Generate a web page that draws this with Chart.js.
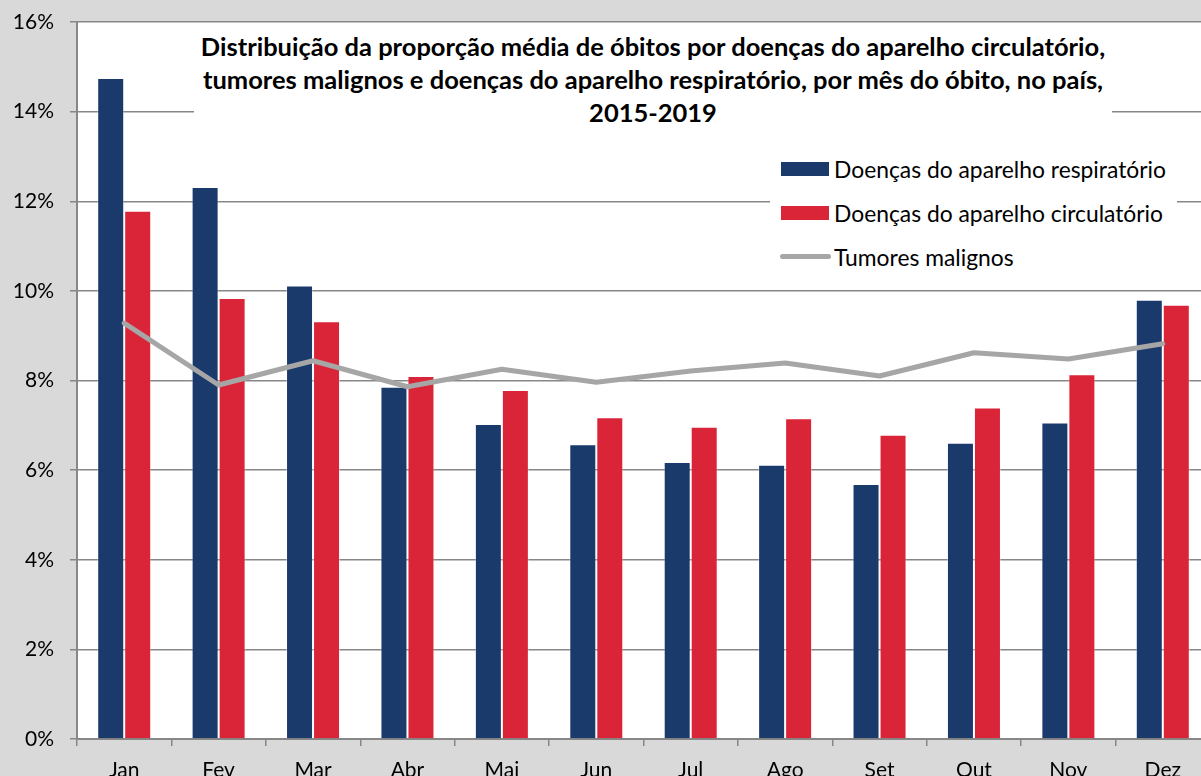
<!DOCTYPE html>
<html>
<head>
<meta charset="utf-8">
<script src="https://cdn.jsdelivr.net/npm/chart.js@4/dist/chart.umd.min.js"></script>
<style>
  html, body { margin:0; padding:0; width:1201px; height:776px; overflow:hidden; background:#d9d9d9; }
  #wrap { position:absolute; left:0; top:0; width:1210px; height:800px; }
  canvas { position:absolute; left:0; top:0; }
  #title { position:absolute; left:194px; top:28px; width:918px; height:104px; background:#fff;
           font-family:Lato, sans-serif; font-weight:bold; text-align:center; line-height:33px; color:#000;
           padding-top:2px; box-sizing:border-box; white-space:nowrap; }
  #legend { position:absolute; left:770px; top:140px; width:407px; height:140px; background:#fff; }
  .sw { position:absolute; left:11px; width:48px; height:14px; }
  .ln { position:absolute; left:10px; width:51px; height:5px; border-radius:3px; background:#a6a6a6; }
  .lt { position:absolute; left:64px; font-family:Lato, sans-serif; color:#000; white-space:nowrap; line-height:20px; }
</style>
</head>
<body>
<div id="wrap">
  <canvas id="c" width="1210" height="800"></canvas>
  <div id="title"></div>
  <div id="legend"></div>
</div>
<script>
const months = ['Jan','Fev','Mar','Abr','Mai','Jun','Jul','Ago','Set','Out','Nov','Dez'];
const respiratorio = [14.75,12.32,10.12,7.86,7.03,6.58,6.18,6.12,5.69,6.61,7.06,9.80];
const circulatorio = [11.79,9.84,9.32,8.10,7.79,7.18,6.97,7.16,6.79,7.40,8.14,9.69];
const tumores = [9.28,7.90,8.44,7.86,8.25,7.96,8.21,8.39,8.10,8.62,8.48,8.82];
const seriesNames = ['Doenças do aparelho respiratório','Doenças do aparelho circulatório','Tumores malignos'];
const titleLines = ['Distribuição da proporção média de óbitos por doenças do aparelho circulatório,',
                    'tumores malignos e doenças do aparelho respiratório, por mês do óbito, no país,',
                    '2015-2019'];
const yTicks = [0,2,4,6,8,10,12,14,16];

const colBlue = '#1a3a6c', colRed = '#da2538', colGray = '#a6a6a6', gridCol = '#878787';

const mctx = document.createElement('canvas').getContext('2d');
function fitSize(text, weight, target) {
  mctx.font = weight + ' 20px Lato';
  return 20 * target / mctx.measureText(text).width;
}
const tSize = fitSize(titleLines[0], 'bold', 905);
const tEl = document.getElementById('title');
tEl.style.fontSize = tSize.toFixed(2) + 'px';
tEl.innerHTML = titleLines.map(s => '<div>' + s + '</div>').join('');

const lSize = fitSize(seriesNames[0], 'normal', 332);
const lg = document.getElementById('legend');
const rowCenters = [168.5, 212.5, 256.5];
seriesNames.forEach((n, i) => {
  const top = rowCenters[i] - 140;
  let sw = i < 2 ? `<div class="sw" style="top:${top-7}px;background:${i===0?colBlue:colRed}"></div>`
                 : `<div class="ln" style="top:${top-2.5}px"></div>`;
  lg.insertAdjacentHTML('beforeend', sw +
    `<div class="lt" style="top:${top-10}px;font-size:${lSize.toFixed(2)}px">${n}</div>`);
});

const whiteArea = {
  id: 'whiteArea',
  beforeDraw(chart) {
    const a = chart.chartArea, ctx = chart.ctx;
    ctx.save(); ctx.fillStyle = '#fff';
    ctx.fillRect(a.left, a.top, a.right - a.left, a.bottom - a.top);
    ctx.restore();
  }
};

new Chart(document.getElementById('c'), {
  data: {
    labels: months,
    datasets: [
      { type:'line', label: seriesNames[2], data: tumores, borderColor: colGray, borderWidth: 5,
        pointRadius: 0, tension: 0, order: 0, borderCapStyle:'round', borderJoinStyle:'round' },
      { type:'bar', label: seriesNames[0], data: respiratorio, backgroundColor: colBlue,
        borderColor: 'rgba(255,255,255,0.35)', borderWidth: 1, order: 1 },
      { type:'bar', label: seriesNames[1], data: circulatorio, backgroundColor: colRed,
        borderColor: 'rgba(255,255,255,0.35)', borderWidth: 1, order: 1 }
    ]
  },
  options: {
    responsive: false, animation: false, devicePixelRatio: 1,
    layout: { padding: { top: 22, left: 0, right: 0, bottom: 0 } },
    datasets: { bar: { categoryPercentage: 0.572, barPercentage: 1.0 } },
    plugins: { legend: { display: false }, title: { display: false }, tooltip: { enabled: false } },
    scales: {
      x: {
        offset: true,
        grid: { offset: true, drawOnChartArea: false, tickLength: 7, color: gridCol, lineWidth: 1.5 },
        border: { color: gridCol, width: 2 },
        ticks: { font: { family: 'Lato', size: 21 }, color: '#000', padding: 12, maxRotation: 0 },
        afterFit(s) { s.height = 800 - 739; s.paddingLeft = 0; s.paddingRight = 0; }
      },
      y: {
        min: 0, max: 16,
        afterBuildTicks(s) { s.ticks = yTicks.map(v => ({ value: v })); },
        grid: { color: gridCol, lineWidth: 1.5, tickLength: 7 },
        border: { color: gridCol, width: 2 },
        ticks: { font: { family: 'Lato', size: 21 }, color: '#000', padding: 16,
                 callback: v => v + '%' },
        afterFit(s) { s.width = 77; s.paddingTop = 0; s.paddingBottom = 0; }
      }
    }
  },
  plugins: [whiteArea]
});
</script>
</body>
</html>
